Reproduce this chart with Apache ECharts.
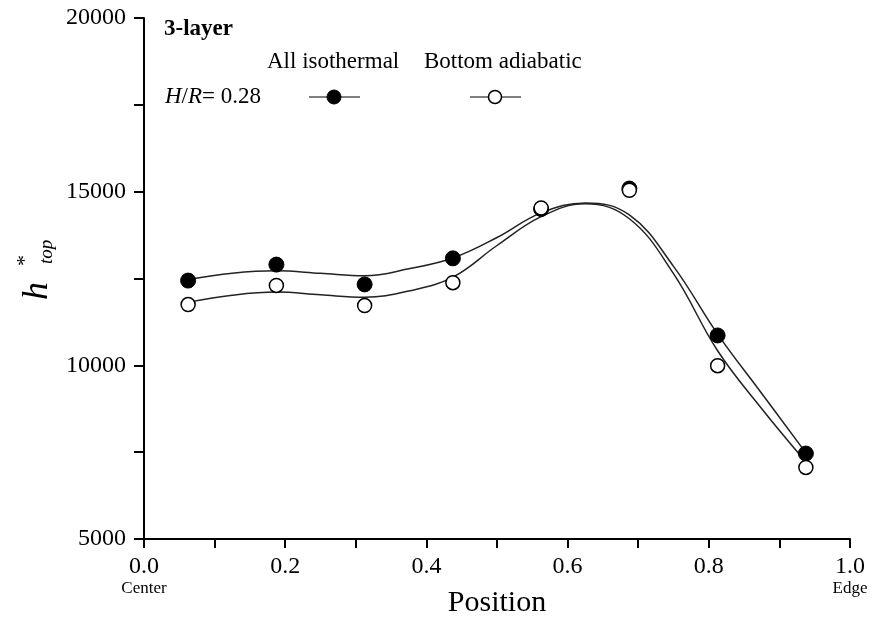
<!DOCTYPE html>
<html><head><meta charset="utf-8">
<script src="https://cdn.jsdelivr.net/npm/echarts@6/dist/echarts.min.js"></script>
<style>html,body{margin:0;padding:0;background:#fff}#c{width:872px;height:621px}</style>
</head><body><div id="c"></div>
<script>
const positions = [0.0625, 0.1875, 0.3125, 0.4375, 0.5625, 0.6875, 0.8125, 0.9375];
const isothermal = [12440, 12900, 12330, 13080, 14500, 15090, 10860, 7460];
const adiabatic = [11750, 12300, 11720, 12380, 14530, 15040, 9990, 7060];
const curveX = [0.0625, 0.125, 0.1875, 0.25, 0.3125, 0.375, 0.4375, 0.5, 0.5625, 0.625, 0.6875, 0.75, 0.8125, 0.875, 0.9375];
const isoCurve = [12470, 12650, 12720, 12650, 12580, 12780, 13090, 13680, 14390, 14675, 14330, 12850, 10900, 9190, 7480];
const adiCurve = [11820, 12020, 12110, 12030, 11960, 12140, 12540, 13450, 14280, 14650, 14220, 12640, 10420, 8750, 7220];
const yTicks = [5000, 10000, 15000, 20000];
const xTicks = [0, 0.2, 0.4, 0.6, 0.8, 1.0];

const serif = 'Liberation Serif';
const chart = echarts.init(document.getElementById('c'));
const pair = (xs, ys) => xs.map((x, i) => [x, ys[i]]);
chart.setOption({
  animation: false,
  backgroundColor: '#fff',
  grid: {left: 144, right: 22, top: 18, bottom: 82, containLabel: false, outerBoundsMode: 'none'},
  xAxis: {
    type: 'value', min: xTicks[0], max: xTicks[xTicks.length - 1], interval: 0.2,
    axisLine: {lineStyle: {color: '#000', width: 2}},
    axisTick: {inside: false, length: 9, lineStyle: {color: '#000', width: 2}},
    minorTick: {show: true, splitNumber: 2, length: 9, lineStyle: {color: '#000', width: 2}},
    splitLine: {show: false},
    axisLabel: {
      fontFamily: serif, fontSize: 24, color: '#000', margin: 16, lineHeight: 24,
      formatter: v => v === 0 ? '{a|0.0}\n{b|Center}' : (v === 1 ? '{a|1.0}\n{b|Edge}' : v.toFixed(1)),
      rich: {
        a: {fontFamily: serif, fontSize: 24, color: '#000', lineHeight: 24},
        b: {fontFamily: serif, fontSize: 17, color: '#000', lineHeight: 20}
      }
    }
  },
  yAxis: {
    type: 'value', min: yTicks[0], max: yTicks[yTicks.length - 1], interval: 5000,
    axisLine: {show: true, lineStyle: {color: '#000', width: 2}},
    axisTick: {show: true, inside: false, length: 10, lineStyle: {color: '#000', width: 2}},
    minorTick: {show: true, splitNumber: 2, length: 10, lineStyle: {color: '#000', width: 2}},
    splitLine: {show: false},
    axisLabel: {fontFamily: serif, fontSize: 24, color: '#000', margin: 18, formatter: v => String(v)}
  },
  series: [
    {type: 'line', data: pair(curveX, isoCurve), smooth: 0.4, showSymbol: false, symbol: 'none',
     lineStyle: {color: '#222', width: 1.5}, z: 2},
    {type: 'line', data: pair(curveX, adiCurve), smooth: 0.4, showSymbol: false, symbol: 'none',
     lineStyle: {color: '#222', width: 1.5}, z: 2},
    {type: 'scatter', data: pair(positions, isothermal), symbol: 'circle', symbolSize: 15,
     itemStyle: {color: '#000', borderColor: '#000', borderWidth: 1, opacity: 1}, z: 3},
    {type: 'scatter', data: pair(positions, adiabatic), symbol: 'circle', symbolSize: 14,
     itemStyle: {color: '#fff', borderColor: '#000', borderWidth: 1.5, opacity: 1}, z: 4}
  ],
  graphic: [
    {type: 'text', x: 497, y: 603, style: {text: 'Position', font: '30px "Liberation Serif"', fill: '#000', textAlign: 'center', textVerticalAlign: 'middle'}},
    {type: 'text', left: 164, top: 18, style: {text: '3-layer', font: 'bold 23px "Liberation Serif"', fill: '#000'}},
    {type: 'text', left: 267, top: 50, style: {text: 'All isothermal', font: '23px "Liberation Serif"', fill: '#000'}},
    {type: 'text', left: 424, top: 50, style: {text: 'Bottom adiabatic', font: '23px "Liberation Serif"', fill: '#000'}},
    {type: 'text', left: 165, top: 85, style: {
      text: '{i|H}{n|/}{i|R}{n|= 0.28}',
      rich: {i: {font: 'italic 23px "Liberation Serif"', fill: '#000'}, n: {font: '23px "Liberation Serif"', fill: '#000'}}
    }},
    {type: 'line', shape: {x1: 309, y1: 97, x2: 360, y2: 97}, style: {stroke: '#000', lineWidth: 1.2}},
    {type: 'circle', shape: {cx: 334, cy: 97, r: 7}, style: {fill: '#000', stroke: '#000'}},
    {type: 'line', shape: {x1: 470, y1: 97, x2: 521, y2: 97}, style: {stroke: '#000', lineWidth: 1.2}},
    {type: 'circle', shape: {cx: 495, cy: 97, r: 6.5}, style: {fill: '#fff', stroke: '#000', lineWidth: 1.5}},
    {type: 'text', x: 56, y: 300, rotation: Math.PI / 2, style: {text: 'h', font: 'italic 36px "Liberation Serif"', fill: '#000', textAlign: 'left', textVerticalAlign: 'bottom'}},
    {type: 'text', x: 36, y: 266, rotation: Math.PI / 2, style: {text: '*', font: '22px "Liberation Serif"', fill: '#000', textAlign: 'left', textVerticalAlign: 'bottom'}},
    {type: 'text', x: 56, y: 264, rotation: Math.PI / 2, style: {text: 'top', font: 'italic 19px "Liberation Serif"', fill: '#000', textAlign: 'left', textVerticalAlign: 'bottom'}}
  ]
});
</script></body></html>
